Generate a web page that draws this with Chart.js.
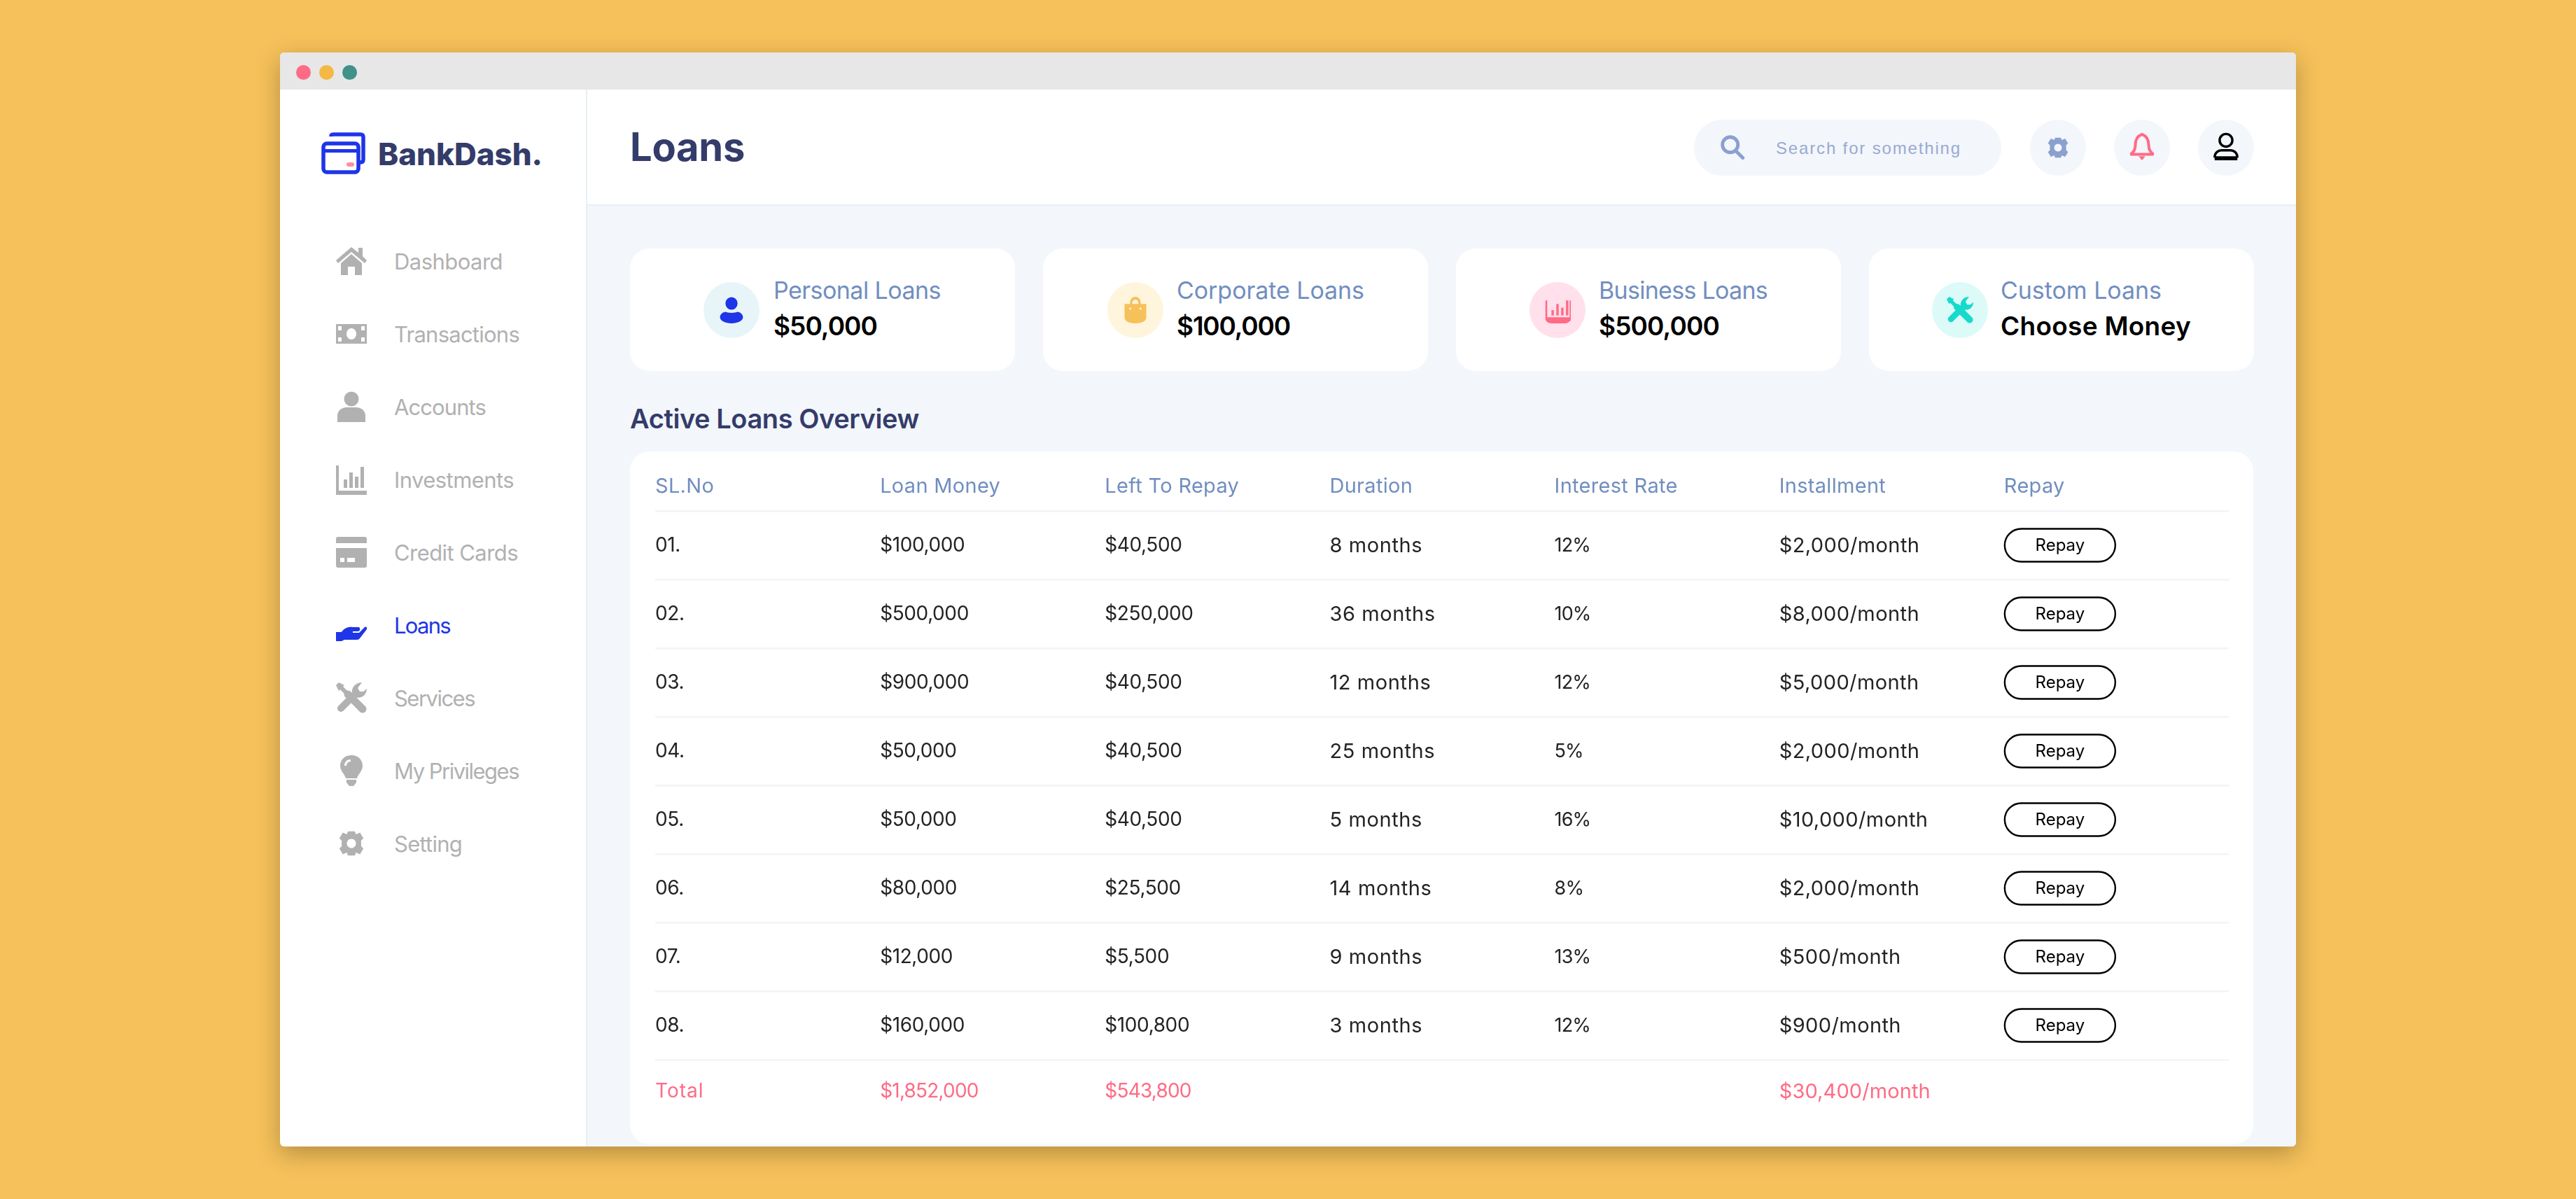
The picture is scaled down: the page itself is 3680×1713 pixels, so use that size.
<!DOCTYPE html>
<html><head><meta charset="utf-8">
<style>
html,body{margin:0;padding:0;width:3680px;height:1713px;overflow:hidden;background:#F6C15A;font-family:Inter,sans-serif}
#chrome,#chrome div,#chrome svg,.t{position:absolute}
.t{white-space:nowrap;line-height:1;transform:translateY(-50%)}
canvas{position:absolute;left:0;top:0}
</style>
<script src="https://cdn.jsdelivr.net/npm/chart.js@4/dist/chart.umd.min.js"></script>
</head><body>
<div id="chrome"></div>
<canvas id="c" width="3680" height="1713" style="width:3680px;height:1713px"></canvas>
<script>
// ---- table data ----
const columnHeaders = ['SL.No','Loan Money','Left To Repay','Duration','Interest Rate','Installment','Repay'];
const rowLabels = ['01.','02.','03.','04.','05.','06.','07.','08.','Total'];
const loanMoney   = ['$100,000','$500,000','$900,000','$50,000','$50,000','$80,000','$12,000','$160,000','$1,852,000'];
const leftToRepay = ['$40,500','$250,000','$40,500','$40,500','$40,500','$25,500','$5,500','$100,800','$543,800'];
const duration    = ['8 months','36 months','12 months','25 months','5 months','14 months','9 months','3 months',''];
const interestRate= ['12%','10%','12%','5%','16%','8%','13%','12%',''];
const installment = ['$2,000/month','$8,000/month','$5,000/month','$2,000/month','$10,000/month','$2,000/month','$500/month','$900/month','$30,400/month'];
const repayLabels = ['Repay','Repay','Repay','Repay','Repay','Repay','Repay','Repay',''];
// ---- page text ----
const menuItems = ['Dashboard','Transactions','Accounts','Investments','Credit Cards','Loans','Services','My Privileges','Setting'];
const cardTitles = ['Personal Loans','Corporate Loans','Business Loans','Custom Loans'];
const cardValues = ['$50,000','$100,000','$500,000','Choose Money'];

const NAVY='#343C6A', GREY='#B1B1B1', BLUE='#1E35E8', SLATE='#718EBF', RED='#FF6B85', INK='#232323';
const root=document.getElementById('chrome');
function box(x,y,w,h,bg,r,extra){const d=document.createElement('div');
  d.style.cssText=`left:${x}px;top:${y}px;width:${w}px;height:${h}px;background:${bg};border-radius:${r||0}px;${extra||''}`;root.appendChild(d);return d;}
function text(x,yc,s,size,weight,color,width,fam){const d=document.createElement('div');d.className='t';d.textContent=s;
  d.style.cssText=`left:${x}px;top:${yc}px;font-size:${size}px;font-weight:${weight};color:${color};font-family:${fam||'Inter'},sans-serif`;
  root.appendChild(d);
  if(width){const m=d.getBoundingClientRect().width;d.style.letterSpacing=((width-m)/(s.length))+'px';}
  return d;}
function icon(cx,cy,size,body,vb){const ns='http://www.w3.org/2000/svg';const s=document.createElementNS(ns,'svg');
  s.setAttribute('viewBox',vb||'0 0 44 44');s.setAttribute('width',size);s.setAttribute('height',size);
  s.style.left=(cx-size/2)+'px';s.style.top=(cy-size/2)+'px';s.innerHTML=body;root.appendChild(s);}
const ic={
 home:c=>`<path fill="${c}" d="M22 2 L32 10 V3 H38 V15 L44 21 L41 25 L22 9 L3 25 L0 21 Z M7 25 L22 12 L37 25 V42 H27 V30 H17 V42 H7 Z"/>`,
 money:c=>`<path fill="${c}" fill-rule="evenodd" d="M0 8 H44 V36 H0 Z M22 14 a7 8 0 1 0 .01 0 Z M3 11 V17 H8 V11 Z M36 11 V17 H41 V11 Z M3 27 V33 H8 V27 Z M36 27 V33 H41 V27 Z"/>`,
 user:c=>`<circle cx="22" cy="11" r="10.5" fill="${c}"/><path fill="${c}" d="M2 44 V35 C2 27 9 23 15 23 H29 C35 23 42 27 42 35 V44 Z"/>`,
 person:c=>`<ellipse cx="22" cy="11" rx="10" ry="10.5" fill="${c}"/><path fill="${c}" d="M12 25 C15 27 29 27 32 25 C38 26 41 30 41 34 C41 40 32 44 22 44 C12 44 3 40 3 34 C3 30 6 26 12 25 Z"/>`,
 invest:c=>`<path fill="${c}" d="M0 2 H4 V38 H44 V44 H0 Z M11 22 H16 V34 H11 Z M19 12 H24 V34 H19 Z M27 18 H32 V34 H27 Z M35 4 H40 V34 H35 Z"/>`,
 credit:c=>`<path fill="${c}" fill-rule="evenodd" d="M3 0 H41 Q44 0 44 3 V9 H0 V3 Q0 0 3 0 Z M0 16 H44 V41 Q44 44 41 44 H3 Q0 44 0 41 Z M6 30 V36 H12 V30 Z M16 30 V36 H27 V30 Z"/>`,
 hand:c=>`<path fill="${c}" d="M0 28 H8 C12 22 18 20 24 21 H32 C35 21 35 26 32 27 H24 L24 29 H33 L41 21 C44 19 45 23 44 24 L34 37 C33 38 32 39 30 39 H12 L8 41 H0 Z"/>`,
 tools:c=>`<path d="M5 5 L14 14" stroke="${c}" stroke-width="6" fill="none"/><path d="M0 4 L4 0 L12 4 L4 12 Z" fill="${c}"/><path d="M17 17 L38 38" stroke="${c}" stroke-width="11" stroke-linecap="round" fill="none"/><path d="M7 37 L27 17" stroke="${c}" stroke-width="10" stroke-linecap="round" fill="none"/><path fill="${c}" d="M44 9 C44 18 36 24 27 21 L23 15 C22 7 28 0 37 0 L31 8 L34 13 L39 13 Z"/>`,
 bulb:c=>`<path fill="${c}" fill-rule="evenodd" d="M22 0 C34 0 38 9 38 15 C38 23 32 26 30 33 H14 C12 26 6 23 6 15 C6 9 10 0 22 0 Z M21 6 C15 6 12 10 12 15 H15 C15 11 18 9 21 9 Z M15 35 H29 V39 L25 44 H19 L15 39 Z"/>`,
 gear:c=>`<path fill="${c}" fill-rule="evenodd" d="M16 1 H28 L30 6 L37 3 L43 13 L39 17 V27 L43 31 L37 41 L30 38 L28 43 H16 L14 38 L7 41 L1 31 L5 27 V17 L1 13 L7 3 L14 6 Z M22 14 a8 8 0 1 0 .01 0 Z"/>`,
 bag:c=>`<path fill="${c}" fill-rule="evenodd" d="M22 0 C29 0 31 6 31 12 H40 V34 C40 40 34 44 22 44 C10 44 4 40 4 34 V12 H13 C13 6 15 0 22 0 Z M22 5 C18 5 17 8 17 12 H27 C27 8 26 5 22 5 Z M12 18 V21 H15 V18 Z M29 18 V21 H32 V18 Z"/>`,
 bars:c=>`<path fill="${c}" d="M2 6 H5 V34 H42 V6 H45 V38 Q40 44 34 44 H12 Q5 44 2 38 Z M12 22 H16 V31 H12 Z M20 12 H24 V31 H20 Z M28 18 H32 V31 H28 Z M36 6 H40 V31 H36 Z"/>`,
 search:c=>`<circle cx="18" cy="18" r="13.5" fill="none" stroke="${c}" stroke-width="6"/><path d="M28 29 L40 41" stroke="${c}" stroke-width="6" stroke-linecap="round"/>`,
 bell:c=>`<path fill="none" stroke="${c}" stroke-width="4.2" stroke-linejoin="round" d="M22 3 C30 6 32 12 32 19 C32 25 34 29 38 32 V33 H6 V32 C10 29 12 25 12 19 C12 12 14 6 22 3 Z"/><path fill="${c}" d="M17 36 H27 L22 42 Z"/>`,
 acct:c=>`<circle cx="22" cy="12" r="9.5" fill="none" stroke="${c}" stroke-width="3.6"/><path fill="none" stroke="${c}" stroke-width="3.6" d="M5 38 C5 30 11 27 15 27 H29 C33 27 39 30 39 38"/><path fill="${c}" d="M5 36 H39 V42 H5 Z"/>`
};
// window
box(400,75,2880,1563,'#FFFFFF',6,'box-shadow:0 10px 34px rgba(0,0,0,.27);overflow:hidden');
box(400,75,2880,53,'#E7E7E7',0,'border-radius:6px 6px 0 0');
[[433,'#FF6B85'],[466,'#F4B943'],[499,'#3F918A']].forEach(([x,c])=>box(x-10.5,92.5,21,21,c,11));
box(838,293,2442,1345,'#F3F6FA',0,'border-radius:0 0 6px 0');
box(837,128,2,1510,'#E6EFF5');
box(838,292,2442,2,'#E6EFF5');
// logo
icon(491,220,64,`<path fill="none" stroke="#1E35E8" stroke-width="5.5" stroke-linejoin="round" d="M14 7 V6 Q14 4 18 4 H56 Q60 4 60 8 V40 Q60 44 56 44 H52"/>
<rect x="3" y="17" width="50" height="41" rx="5" fill="#fff" stroke="#1E35E8" stroke-width="5.5"/><rect x="3" y="25" width="50" height="5" fill="#1E35E8"/><rect x="36" y="44" width="11" height="6" rx="3" fill="#FF8FA3"/>`,'0 0 64 64');
text(540,220,'BankDash.',44,800,NAVY,235);
text(900,210,'Loans',56,700,NAVY,164);
// sidebar
const menuWidths=[155,179,131,171,177,80,115,178,97];
const menuIcons=['home','money','user','invest','credit','hand','tools','bulb','gear'];
menuItems.forEach((m,i)=>{const y=373+104*i;const active=m==='Loans';
  text(563,y,m,31,400,active?BLUE:GREY,menuWidths[i]);
  icon(502,y+(active?4:0),m==='Setting'?36:44,ic[menuIcons[i]](active?BLUE:GREY));});
// header right
box(2420,171,439,80,'#F3F6FA',40);
icon(2475,210,36,ic.search('#8BA0CF'));
text(2537,212,'Search for something',24,400,'#98AAD3',265,'"Liberation Sans"');
[2940,3060,3180].forEach(x=>box(x-40,171,80,80,'#F3F6FA',40));
icon(2940,211,30,ic.gear('#8BA0CF'));
icon(3060,210,42,ic.bell(RED));
icon(3180,210,42,ic.acct('#000'));
// cards
const cardX=[900,1490,2080,2670],cardW=550;
const cardCx=[1045,1622,2225,2800],textX=[1105,1681,2284,2858];
const circleBg=['#E7F5F9','#FFF5DC','#FFE0EB','#DCFAF8'];
const cardIc=[ic.person(BLUE),ic.bag('#F6C15A'),ic.bars(RED),ic.tools('#16DBCC')];
const tw=[239,268,241,230],vw=[148,162,172,272];
cardTitles.forEach((t,i)=>{box(cardX[i],355,cardW,175,'#fff',28);
  box(cardCx[i]-40,403,80,80,circleBg[i],40);
  icon(cardCx[i],443,38,cardIc[i]);
  text(textX[i],415,t,34,400,SLATE,tw[i]);
  text(textX[i],465,cardValues[i],37,600,'#000',vw[i]);});
text(900,598,'Active Loans Overview',38,600,NAVY,413);
box(900,645,2319,990,'#fff',28);

// ---- chart: the table, one dataset per column ----
const FONT='Inter, sans-serif';
const columns=[rowLabels,loanMoney,leftToRepay,duration,interestRate,installment,repayLabels];
// per-column type size and tracking, so Inter occupies the reference's text widths
const colSize=[28,28,28,29,27,29,24];
const colTrack=[-0.4,-0.4,-0.4,0.6,-0.9,0.4,0];
const datasets=columns.map((vals,c)=>({
  data:vals.map((v,r)=>({x:columnHeaders[c],y:rowLabels[r],text:v})),
  showLine:false,pointRadius:0,isRepay:c===6,column:c
}));
const cellPlugin={id:'cells',
  beforeDraw(chart){chart.ctx.letterSpacing='0.3px';},
  afterDatasetsDraw(chart){const ctx=chart.ctx;
    chart.data.datasets.forEach((ds,i)=>{chart.getDatasetMeta(i).data.forEach((pt,j)=>{
      const raw=ds.data[j];if(!raw.text)return;
      ctx.save();ctx.textBaseline='middle';
      ctx.letterSpacing=colTrack[ds.column]+'px';
      if(ds.isRepay){
        ctx.beginPath();ctx.roundRect(pt.x+1,pt.y-23.5,158,47,23.5);ctx.lineWidth=2.4;ctx.strokeStyle='#000';ctx.stroke();
        ctx.fillStyle='#000';ctx.font='400 '+colSize[ds.column]+'px '+FONT;ctx.textAlign='center';ctx.fillText(raw.text,pt.x+80,pt.y+1);
      }else{
        const tot=raw.y==='Total';
        ctx.fillStyle=tot?RED:INK;ctx.font='400 '+colSize[ds.column]+'px '+FONT;ctx.textAlign='left';
        if(tot)ctx.letterSpacing=(ds.column===0?1:ds.column===5?0.1:-0.8)+'px';
        ctx.fillText(raw.text,pt.x,pt.y+(tot?-3:1));
      }
      ctx.restore();
    });});
  }};
new Chart(document.getElementById('c'),{
  type:'line',
  data:{datasets},
  plugins:[cellPlugin],
  options:{responsive:false,animation:false,devicePixelRatio:1,events:[],
    layout:{padding:{left:936,right:496,top:640,bottom:101}},
    plugins:{legend:{display:false},tooltip:{enabled:false},title:{display:false}},
    scales:{
      x:{type:'category',position:'top',labels:[...columnHeaders,''],offset:false,
        grid:{display:false,drawTicks:false},border:{display:false},
        afterFit(s){s.height=90;},
        ticks:{align:'start',autoSkip:false,maxRotation:0,minRotation:0,color:SLATE,padding:17,font:{family:FONT,size:29,weight:'400'}}},
      y:{type:'category',labels:rowLabels,offset:true,
        border:{display:false},afterFit(s){s.width=0;},
        grid:{offset:true,lineWidth:2.4,drawTicks:false,color:c=>c.index<9?'#F2F4F7':'rgba(0,0,0,0)'},
        ticks:{display:false}}
    }}
});
</script>
</body></html>
